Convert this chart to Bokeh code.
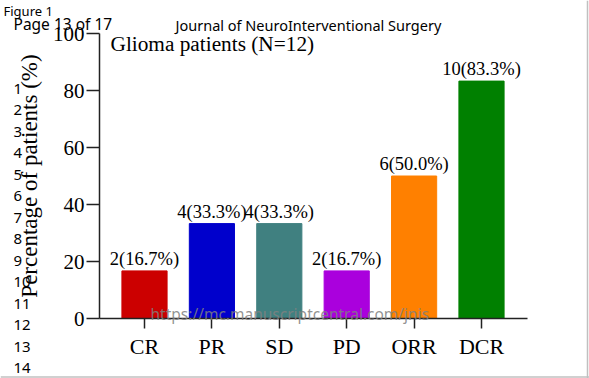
from bokeh.plotting import figure
from bokeh.models import ColumnDataSource, Label, LinearAxis, FixedTicker, Range1d, Span
from bokeh.embed import file_html
from bokeh.resources import INLINE
from bokeh.core.properties import value

categories = ["CR", "PR", "SD", "PD", "ORR", "DCR"]
counts = [2, 4, 4, 2, 6, 10]
percents = [16.7, 33.3, 33.3, 16.7, 50.0, 83.3]
colors = ["#CC0000", "#0000CC", "#408080", "#AA00DD", "#FF8000", "#008000"]
y_ticks = [0, 20, 40, 60, 80, 100]
line_numbers = list(range(1, 15))

title_text = "Glioma patients (N=12)"
y_label = "Percentage of patients (%)"

SERIF = "Liberation Serif"
SANS = "Noto Sans"

W, H = 589, 378
# layout: pixel geometry of the plot area on the page
X0_PX, X_STEP = 144, 67.4          # first category centre, category spacing
Y0_PX, Y100_PX = 318, 33           # pixel rows of 0 % and 100 %
y_px = (Y0_PX - Y100_PX) / 100.0

xpos = list(range(len(categories)))
bar_labels = [f"{c}({p:.1f}%)" for c, p in zip(counts, percents)]
src = ColumnDataSource(dict(x=xpos, pct=percents, color=colors, label=bar_labels))

x_range = Range1d(-X0_PX / X_STEP, (W - X0_PX) / X_STEP)
y_range = Range1d(-(H - Y0_PX) / y_px, Y0_PX / y_px)
x_left = -0.668
x_right = 5.683

p = figure(
    width=W, height=H, x_range=x_range, y_range=y_range,
    x_axis_type=None, y_axis_type=None,
    output_backend="svg", toolbar_location=None,
    min_border=0, min_border_left=0, min_border_right=0, min_border_top=0, min_border_bottom=0,
)
p.outline_line_color = None
p.grid.visible = False
p.background_fill_color = "white"
p.border_fill_color = "white"

p.vbar(x="x", top="pct", width=0.67, fill_color="color", line_color="color", source=src)
p.text(x="x", y="pct", text="label", text_align="center", text_baseline="alphabetic",
       y_offset=-12, text_font=value(SERIF), text_font_size="18.5px", text_color="black", source=src)

xaxis = LinearAxis(fixed_location=0, bounds=(x_left, x_right))
xaxis.ticker = FixedTicker(ticks=xpos)
xaxis.major_label_overrides = {i: c for i, c in zip(xpos, categories)}
yaxis = LinearAxis(fixed_location=x_left, bounds=(0, 100))
yaxis.ticker = FixedTicker(ticks=y_ticks)

for ax in (xaxis, yaxis):
    ax.axis_line_width = 1.5
    ax.axis_line_color = "#222222"
    ax.major_tick_line_width = 1.5
    ax.major_tick_line_color = "#222222"
    ax.major_tick_in = 0
    ax.minor_tick_line_color = None
    ax.major_label_text_font = SERIF
    ax.major_label_text_color = "black"

xaxis.major_tick_out = 10
xaxis.major_label_text_font_size = "22px"
xaxis.major_label_standoff = 5

yaxis.major_tick_out = 13
yaxis.major_label_text_font_size = "21px"
yaxis.major_label_standoff = 2
yaxis.axis_label = y_label
yaxis.axis_label_text_font = SERIF
yaxis.axis_label_text_font_size = "23px"
yaxis.axis_label_text_font_style = "normal"
yaxis.axis_label_text_color = "black"
yaxis.axis_label_standoff = 8

p.add_layout(xaxis, "below")
p.add_layout(yaxis, "left")

# page pixel -> frame screen units (frame == whole canvas, origin bottom-left)
def sy(py):
    return H - py

def lab(px, py, text, font, size, color="black", alpha=1.0):
    p.add_layout(Label(x=px, y=sy(py), x_units="screen", y_units="screen", text=text,
                       text_font=font, text_font_size=size, text_baseline="middle",
                       text_color=color, text_alpha=alpha))

lab(110, 43, title_text, SERIF, "21.3px")
lab(150, 313, "https://mc.manuscriptcentral.com/jnis", SANS, "15.5px", "#808080", 0.85)
lab(3, 10, "Figure 1", SANS, "13px")
lab(13, 23, "Page 13 of 17", SANS, "15.5px")
lab(175, 24, "Journal of NeuroInterventional Surgery", SANS, "14.5px")
for i, n in enumerate(line_numbers):
    lab(13, 88 + 21.5 * i, str(n), SANS, "15px")

p.add_layout(Span(location=587, location_units="screen", dimension="height",
                  line_color="#c0c0c0", line_width=1.5))
p.add_layout(Span(location=1.5, location_units="screen", dimension="width",
                  line_color="#c0c0c0", line_width=1.5))

open("out.html", "w").write(file_html(p, INLINE))
